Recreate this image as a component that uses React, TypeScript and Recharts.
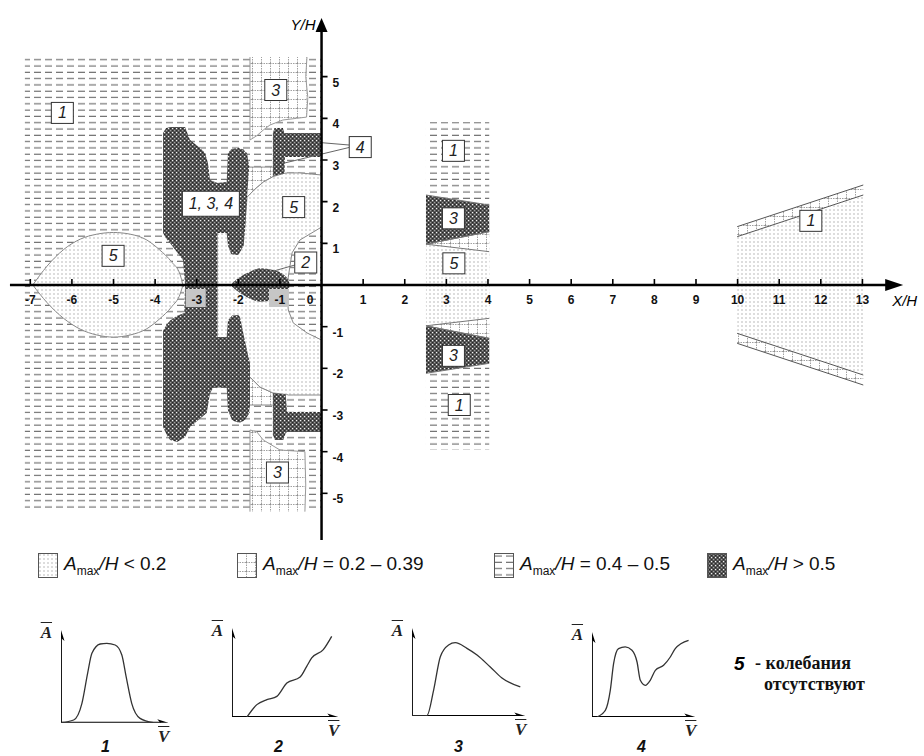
import React from "react";
import { ComposedChart, Area, Line, Scatter, XAxis, YAxis } from "recharts";

// [x, low, high] in X/H, Y/H units
type Row = [number, number, number];
type Pt = [number, number];

const SANS = "Liberation Sans, Arial, sans-serif";
const SERIF = "Liberation Serif, Times New Roman, serif";

const xTicks = [-7, -6, -5, -4, -3, -2, -1, 0, 1, 2, 3, 4, 5, 6, 7, 8, 9, 10, 11, 12, 13];
const yTicks = [-5, -4, -3, -2, -1, 1, 2, 3, 4, 5];
const shadedTicks = [-3, -1];

// background zones (0.4 - 0.5)
const dashLeft: Row[] = [[-7.13, -5.45, 5.47], [0, -5.45, 5.47]];
const dashMid: Row[] = [[2.51, -3.96, 3.91], [4.03, -3.96, 3.91]];

// zone 3 (0.2 - 0.39)
const grid3Top: Row[] = [
  [-1.72, 3.48, 5.47], [-1.56, 3.58, 5.47], [-1.4, 3.72, 5.47], [-1.24, 3.84, 5.47],
  [-0.93, 3.96, 5.47], [-0.6, 4.0, 5.47], [-0.36, 4.03, 5.47],
];
const grid3TopEdge: Pt[] = [
  [-1.72, 5.47], [-1.72, 3.48], [-1.56, 3.58], [-1.4, 3.72], [-1.24, 3.84],
  [-0.93, 3.96], [-0.6, 4.0], [-0.36, 4.03], [-0.33, 4.5], [-0.38, 5.0], [-0.35, 5.47],
];
const grid3Bottom: Row[] = [
  [-1.72, -5.44, -3.48], [-1.56, -5.44, -3.52], [-1.4, -5.44, -3.72], [-1.0, -5.44, -3.96], [-0.4, -5.44, -4.0],
];
const grid3BottomEdge: Pt[] = [
  [-1.72, -5.44], [-1.72, -3.48], [-1.56, -3.52], [-1.4, -3.72], [-1.0, -3.96], [-0.4, -4.0], [-0.38, -4.8], [-0.4, -5.44],
];
const gridPatchTop: Row[] = [[-1.79, 2.11, 2.83], [-1.6, 2.3, 2.83], [-1.4, 2.47, 2.83], [-1.17, 2.6, 2.83]];
const gridPatchBottom: Row[] = [[-1.72, -2.88, -2.21], [-1.48, -2.88, -2.45], [-1.17, -2.88, -2.59]];

// zone 5 (no oscillation, < 0.2)
const ellipse5: Row[] = [
  [-6.94, 0, 0], [-6.6, -0.42, 0.45], [-6.2, -0.8, 0.85], [-5.8, -1.06, 1.1], [-5.4, -1.2, 1.22],
  [-5.0, -1.25, 1.26], [-4.6, -1.2, 1.22], [-4.2, -1.05, 1.08], [-3.9, -0.82, 0.85],
  [-3.6, -0.52, 0.55], [-3.4, -0.22, 0.25], [-3.33, 0, 0],
];
const dots5Top: Row[] = [
  [-2.52, 0, 1.3], [-1.85, 0, 1.35], [-1.79, 0, 2.11], [-1.6, 0, 2.3], [-1.4, 0, 2.47],
  [-1.17, 0, 2.6], [-0.9, 0, 2.68], [-0.81, 0, 2.69], [-0.8, 0.19, 2.69],
  [-0.71, 0.77, 2.69], [-0.52, 1.08, 2.69], [0, 1.39, 2.64],
];
const dots5Bottom: Row[] = [
  [-2.52, -1.3, 0], [-1.73, -2.2, 0], [-1.48, -2.45, 0], [-1.17, -2.59, 0], [-0.84, -2.63, 0],
  [-0.83, -2.63, -0.12], [-0.8, -2.64, -0.6], [-0.68, -2.64, -0.91], [-0.35, -2.64, -1.15], [0, -2.64, -1.32],
];

// zone > 0.5
const darkA: Row[] = [
  [-3.81, 1.25, 3.65], [-3.74, 1.12, 3.76], [-3.64, 1.0, 3.79], [-3.57, 0.91, 3.79], [-3.33, 0.6, 3.79],
  [-3.28, 0, 3.79], [-3.16, 0, 3.48], [-2.92, 0, 3.29], [-2.8, 0, 3.17], [-2.73, 0, 2.93],
  [-2.68, 0, 2.52], [-2.5, 0, 2.45],
];
const darkB: Row[] = [
  [-2.52, 1.25, 2.45], [-2.28, 1.25, 2.47], [-2.25, 0.95, 3.17], [-2.17, 0.74, 3.26], [-2.0, 0.72, 3.29],
  [-1.87, 0.95, 3.25], [-1.84, 1.32, 3.2], [-1.79, 2.11, 3.17], [-1.74, 2.83, 2.83],
];
const darkT4: Row[] = [
  [-1.17, 2.62, 3.65], [-1.13, 2.62, 3.77], [-0.93, 2.67, 3.77], [-0.89, 2.68, 3.65], [-0.88, 3.07, 3.65], [0, 3.07, 3.65],
];
const darkA2: Row[] = [
  [-3.81, -3.41, -1.1], [-3.72, -3.6, -0.95], [-3.64, -3.72, -0.85], [-3.47, -3.77, -0.74], [-3.3, -3.66, -0.67],
  [-3.28, -3.65, 0], [-3.16, -3.41, 0], [-2.76, -3.07, 0], [-2.68, -2.6, 0], [-2.6, -2.46, 0], [-2.5, -2.46, 0],
];
const darkB2: Row[] = [
  [-2.52, -2.46, -1.25], [-2.28, -2.46, -1.25], [-2.25, -3.0, -0.85], [-2.15, -3.25, -0.73], [-2.0, -3.3, -0.72],
  [-1.96, -3.3, -0.77], [-1.85, -3.25, -1.3], [-1.75, -3.1, -1.75], [-1.72, -2.9, -1.87],
];
const darkT4b: Row[] = [
  [-1.17, -3.6, -2.59], [-1.12, -3.72, -2.6], [-0.92, -3.72, -2.62], [-0.86, -3.55, -2.63], [-0.83, -3.53, -3.05], [0, -3.53, -3.05],
];
const blob2: Row[] = [
  [-2.15, -0.04, 0.04], [-1.95, -0.2, 0.2], [-1.8, -0.29, 0.28], [-1.48, -0.4, 0.4], [-1.16, -0.38, 0.36],
  [-0.9, -0.24, 0.24], [-0.79, -0.1, 0.1], [-0.76, 0, 0],
];

// strip X/H = 2.5 - 4
const dotsMid: Row[] = [[2.51, -0.98, 0.98], [4.03, -0.8, 0.8]];
const gridMidTop: Row[] = [[2.51, 0.98, 0.98], [4.03, 0.8, 1.28]];
const gridMidBottom: Row[] = [[2.51, -0.98, -0.98], [4.03, -1.28, -0.8]];
const darkMidTop: Row[] = [[2.51, 0.98, 2.16], [4.03, 1.28, 1.92]];
const darkMidBottom: Row[] = [[2.51, -2.12, -0.98], [4.03, -1.88, -1.28]];

// far zone X/H = 10 - 13
const dotsRight: Row[] = [[9.99, -1.16, 1.16], [13.02, -2.14, 2.14]];
const gridRightTop: Row[] = [[9.99, 1.16, 1.4], [13.02, 2.16, 2.4]];
const gridRightBottom: Row[] = [[9.99, -1.4, -1.16], [13.02, -2.4, -2.16]];

// axes and leader lines
const xAxisLine: Pt[] = [[-7.49, 0], [13.6, 0]];
const yAxisLine: Pt[] = [[0, -6.12], [0, 6.1]];
const leader4a: Pt[] = [[0.66, 3.36], [-0.05, 3.42]];
const leader4b: Pt[] = [[0.66, 3.3], [-0.88, 2.93]];
const leader2: Pt[] = [[-0.64, 0.48], [-1.24, 0.31]];

const boxLabels = [
  { x: -6.23, y: 4.13, t: "1" },
  { x: -1.1, y: 4.68, t: "3" },
  { x: 0.93, y: 3.31, t: "4" },
  { x: -2.66, y: 1.95, t: "1, 3, 4" },
  { x: -0.67, y: 1.87, t: "5" },
  { x: -5.01, y: 0.7, t: "5" },
  { x: -0.38, y: 0.54, t: "2" },
  { x: -1.06, y: -4.5, t: "3" },
  { x: 3.17, y: 3.22, t: "1" },
  { x: 3.17, y: 1.6, t: "3" },
  { x: 3.18, y: 0.52, t: "5" },
  { x: 3.17, y: -1.7, t: "3" },
  { x: 3.31, y: -2.88, t: "1" },
  { x: 11.76, y: 1.54, t: "1" },
];

// response curves A(V), both axes 0..10
const curve1: Pt[] = [
  [0, 0], [1.18, 0.29], [1.95, 2.09], [2.48, 5.32], [2.88, 7.48], [3.65, 8.49], [4.27, 8.56],
  [5.05, 8.38], [5.67, 7.3], [6.07, 4.96], [6.59, 2.09], [7.37, 0.47], [8.61, 0],
];
const curve2: Pt[] = [
  [1.41, 0], [2.34, 1.39], [3.28, 1.95], [4.22, 2.32], [5.16, 3.82], [6.41, 4.49], [7.03, 5.69],
  [7.5, 6.63], [8.59, 7.57], [9.38, 9.06],
];
const curve3: Pt[] = [
  [0, 0], [1.32, 0.05], [1.91, 2.95], [2.5, 6.74], [3.23, 8.07], [3.82, 8.33], [4.85, 7.69],
  [5.74, 6.93], [6.91, 5.57], [7.94, 4.32], [9.56, 3.3],
];
const curve4: Pt[] = [
  [0.48, 0], [1.29, 0.79], [1.77, 3.14], [2.09, 6.28], [2.57, 8.05], [3.22, 8.24], [3.87, 7.85],
  [4.36, 6.47], [4.68, 4.32], [5.16, 3.73], [5.64, 4.32], [6.13, 5.49], [6.93, 6.08], [7.58, 7.06],
  [8.06, 8.05], [9.35, 9.02],
];
const miniAxisX: Pt[] = [[0, 0], [9.3, 0]];
const miniAxisY: Pt[] = [[0, 0], [0, 9.2]];

const legendItems = [
  { key: "dots", text: "< 0.2" },
  { key: "grid", text: "= 0.2 – 0.39" },
  { key: "dash", text: "= 0.4 – 0.5" },
  { key: "dark", text: "> 0.5" },
];

const toRange = (rows: Row[]) => rows.map(([x, lo, hi]) => ({ x, r: [lo, hi] }));
const toPts = (pts: Pt[]) => pts.map(([x, y]) => ({ x, y }));

function patterns(s: string) {
  return (
    <defs>
      <pattern id={`dots${s}`} width="4" height="4" patternUnits="userSpaceOnUse">
        <rect width="4" height="4" fill="#fff" />
        <rect x="1.5" y="1.5" width="1" height="1" fill="#777" />
      </pattern>
      <pattern id={`grid${s}`} width="9" height="9" patternUnits="userSpaceOnUse">
        <rect width="9" height="9" fill="#fff" />
        <path d="M0 0.5 H9 M0.5 0 V9" stroke="#888" strokeWidth="0.8" strokeDasharray="1.5 1" />
      </pattern>
      <pattern id={`dash${s}`} width="11" height="6.3" patternUnits="userSpaceOnUse">
        <rect width="11" height="6.3" fill="#fff" />
        <line x1="1" x2="8" y1="3" y2="3" stroke="#666" strokeWidth="1.1" />
      </pattern>
      <pattern id={`dark${s}`} width="4" height="4" patternUnits="userSpaceOnUse">
        <rect width="4" height="4" fill="#4e4e4e" />
        <rect x="0" y="0" width="1.2" height="1.2" fill="#f2f2f2" />
        <rect x="2" y="2" width="1.2" height="1.2" fill="#a0a0a0" />
        <rect x="2" y="0" width="1" height="1" fill="#262626" />
        <rect x="0" y="2" width="1" height="1" fill="#262626" />
      </pattern>
    </defs>
  );
}

const region = (key: string, rows: Row[], fill: string, stroke = "none", curve: "linear" | "monotone" = "linear") => (
  <Area
    key={key}
    data={toRange(rows)}
    dataKey="r"
    type={curve}
    fill={`url(#${fill})`}
    fillOpacity={1}
    stroke={stroke}
    strokeWidth={1}
    dot={false}
    activeDot={false}
    isAnimationActive={false}
  />
);

const segment = (key: string, pts: Pt[], stroke: string, width: number) => (
  <Line
    key={key}
    data={toPts(pts)}
    dataKey="y"
    type="linear"
    stroke={stroke}
    strokeWidth={width}
    dot={false}
    activeDot={false}
    isAnimationActive={false}
  />
);

const XTick = (p: any) => {
  const { cx, cy, payload } = p;
  const v = payload.x;
  return (
    <g>
      {shadedTicks.includes(v) && <rect x={cx - 11} y={cy + 4} width={20} height={18} fill="#c6c6c6" />}
      {v !== 0 && <line x1={cx} x2={cx} y1={cy} y2={cy - 6} stroke="#000" strokeWidth={1.6} />}
      <text x={v === 0 ? cx - 11.5 : cx} y={cy + 18.5} textAnchor="middle" fontSize={12} fontWeight="bold" fill="#111" fontFamily={SANS}>
        {v}
      </text>
    </g>
  );
};

const YTick = (p: any) => {
  const { cx, cy, payload } = p;
  return (
    <g>
      <line x1={cx} x2={cx + 6} y1={cy} y2={cy} stroke="#000" strokeWidth={1.6} />
      <text x={cx + 11} y={cy + 10} fontSize={12} fontWeight="bold" fill="#111" fontFamily={SANS}>
        {payload.y}
      </text>
    </g>
  );
};

const Arrow = (p: any) => {
  const { cx, cy, payload } = p;
  if (payload.dir === "x") {
    return (
      <g>
        <path d={`M${cx} ${cy} L${cx - 18} ${cy - 6} L${cx - 18} ${cy + 6} Z`} fill="#000" />
        <text x={cx - 11} y={cy + 21} fontSize={15} fontStyle="italic" fill="#000" fontFamily={SANS}>X/H</text>
      </g>
    );
  }
  return (
    <g>
      <path d={`M${cx} ${cy} L${cx - 6} ${cy + 14} L${cx + 6} ${cy + 14} Z`} fill="#000" />
      <text x={cx - 6} y={cy + 12} textAnchor="end" fontSize={15} fontStyle="italic" fill="#000" fontFamily={SANS}>Y/H</text>
    </g>
  );
};

const BoxLabel = (p: any) => {
  const { cx, cy, payload } = p;
  const wide = payload.t.length > 1;
  const w = wide ? 57 : 22;
  const h = wide ? 25 : 21;
  return (
    <g>
      <rect x={cx - w / 2} y={cy - h / 2} width={w} height={h} fill="#fff" stroke="#333" strokeWidth={1} />
      <text x={cx} y={cy + 5.5} textAnchor="middle" fontSize={16} fontStyle="italic" fill="#222" fontFamily={SANS}>
        {payload.t}
      </text>
    </g>
  );
};

const MiniArrow = (p: any) => {
  const { cx, cy, payload } = p;
  const d =
    payload.dir === "x"
      ? `M${cx} ${cy} L${cx - 11} ${cy - 3.5} L${cx - 8} ${cy} L${cx - 11} ${cy + 3.5} Z`
      : `M${cx} ${cy} L${cx - 3.5} ${cy + 11} L${cx} ${cy + 8} L${cx + 3.5} ${cy + 11} Z`;
  return <path d={d} fill="#000" />;
};

function MainChart() {
  return (
    <ComposedChart width={924} height={550} margin={{ top: 10, right: 0, bottom: 2.5, left: 9.5 }}>
      {patterns("")}
      <XAxis type="number" dataKey="x" domain={[-7.5, 14.48]} hide allowDataOverflow />
      <YAxis type="number" domain={[-6.3, 6.6]} hide allowDataOverflow />

      {region("dashLeft", dashLeft, "dash")}
      {region("dashMid", dashMid, "dash")}
      {region("grid3Top", grid3Top, "grid")}
      {region("grid3Bottom", grid3Bottom, "grid")}
      {region("gridPatchTop", gridPatchTop, "grid", "#888")}
      {region("gridPatchBottom", gridPatchBottom, "grid", "#888")}
      {region("ellipse5", ellipse5, "dots", "#888", "monotone")}
      {region("dots5Top", dots5Top, "dots", "#888")}
      {region("dots5Bottom", dots5Bottom, "dots", "#888")}
      {region("darkA", darkA, "dark")}
      {region("darkB", darkB, "dark")}
      {region("darkT4", darkT4, "dark")}
      {region("darkA2", darkA2, "dark")}
      {region("darkB2", darkB2, "dark")}
      {region("darkT4b", darkT4b, "dark")}
      {region("blob2", blob2, "dark", "none", "monotone")}

      {region("dotsMid", dotsMid, "dots")}
      {region("gridMidTop", gridMidTop, "grid", "#777")}
      {region("gridMidBottom", gridMidBottom, "grid", "#777")}
      {region("darkMidTop", darkMidTop, "dark", "#777")}
      {region("darkMidBottom", darkMidBottom, "dark", "#777")}

      {region("dotsRight", dotsRight, "dots")}
      {region("gridRightTop", gridRightTop, "grid", "#555")}
      {region("gridRightBottom", gridRightBottom, "grid", "#555")}

      {segment("grid3TopEdge", grid3TopEdge, "#999", 1)}
      {segment("grid3BottomEdge", grid3BottomEdge, "#999", 1)}
      {segment("leader4a", leader4a, "#666", 1)}
      {segment("leader4b", leader4b, "#666", 1)}
      {segment("leader2", leader2, "#666", 1)}
      {segment("xAxisLine", xAxisLine, "#000", 2.5)}
      {segment("yAxisLine", yAxisLine, "#000", 2.5)}

      <Scatter data={xTicks.map((v) => ({ x: v, y: 0 }))} dataKey="y" shape={XTick} isAnimationActive={false} />
      <Scatter data={yTicks.map((v) => ({ x: 0, y: v }))} dataKey="y" shape={YTick} isAnimationActive={false} />
      <Scatter
        data={[{ x: 13.98, y: 0, dir: "x" }, { x: 0, y: 6.41, dir: "y" }]}
        dataKey="y"
        shape={Arrow}
        isAnimationActive={false}
      />
      <Scatter data={boxLabels} dataKey="y" shape={BoxLabel} isAnimationActive={false} />
    </ComposedChart>
  );
}

function Swatch({ kind }: { kind: string }) {
  return (
    <svg width={20} height={25} style={{ display: "block" }}>
      {patterns("L")}
      <rect x={0.5} y={0.5} width={19} height={24} fill={`url(#${kind}L)`} stroke="#555" strokeWidth={1} />
    </svg>
  );
}

function Legend() {
  const lefts = [38, 237, 494, 707];
  return (
    <>
      {legendItems.map((it, i) => (
        <div
          key={it.key}
          style={{
            position: "absolute",
            left: lefts[i],
            top: 553,
            display: "flex",
            alignItems: "center",
            gap: 6,
            fontFamily: SANS,
            fontSize: 19,
            color: "#111",
            whiteSpace: "nowrap",
          }}
        >
          <Swatch kind={it.key} />
          <span>
            <i>A</i>
            <sub style={{ fontSize: 12 }}>max</sub>
            <i>/H</i> {it.text}
          </span>
        </div>
      ))}
    </>
  );
}

function Mini({ x0, xEnd, yBase, yTop, data, num, numX }: {
  x0: number; xEnd: number; yBase: number; yTop: number; data: Pt[]; num: string; numX: number;
}) {
  const pad = 10;
  const w = xEnd - x0;
  const h = yBase - yTop;
  const over: React.CSSProperties = {
    position: "absolute",
    fontFamily: SERIF,
    fontStyle: "italic",
    fontWeight: "bold",
    fontSize: 17,
    lineHeight: 1,
    textDecoration: "overline",
    color: "#222",
  };
  return (
    <>
      <div style={{ position: "absolute", left: x0 - pad, top: yTop - pad }}>
        <ComposedChart width={w + 2 * pad} height={h + 2 * pad} margin={{ top: pad, right: pad, bottom: pad, left: pad }}>
          <XAxis type="number" dataKey="x" domain={[0, 10]} hide allowDataOverflow />
          <YAxis type="number" domain={[0, 10]} hide allowDataOverflow />
          {segment("ax", miniAxisX, "#000", 1.8)}
          {segment("ay", miniAxisY, "#000", 1.8)}
          <Line data={toPts(data)} dataKey="y" type="monotone" stroke="#333" strokeWidth={1.3} dot={false} activeDot={false} isAnimationActive={false} />
          <Scatter data={[{ x: 10, y: 0, dir: "x" }, { x: 0, y: 10, dir: "y" }]} dataKey="y" shape={MiniArrow} isAnimationActive={false} />
        </ComposedChart>
      </div>
      <div style={{ ...over, left: x0 - 20, top: yTop - 6 }}>A</div>
      <div style={{ ...over, left: xEnd - 10, top: yBase + 5 }}>V</div>
      <div
        style={{
          position: "absolute",
          left: numX - 6,
          top: 739,
          fontFamily: SANS,
          fontStyle: "italic",
          fontWeight: "bold",
          fontSize: 16,
          lineHeight: 1,
          color: "#111",
        }}
      >
        {num}
      </div>
    </>
  );
}

export default function App() {
  return (
    <div style={{ position: "absolute", left: 0, top: 0, width: 924, height: 756, background: "#fff", overflow: "hidden" }}>
      <div style={{ position: "absolute", left: 0, top: 0 }}>
        <MainChart />
      </div>
      <Legend />
      <Mini x0={60.7} xEnd={168} yBase={722.7} yTop={630} data={curve1} num="1" numX={107} />
      <Mini x0={231.7} xEnd={338} yBase={717} yTop={628} data={curve2} num="2" numX={280} />
      <Mini x0={411.7} xEnd={525} yBase={716} yTop={628} data={curve3} num="3" numX={460} />
      <Mini x0={591.7} xEnd={695} yBase={716.7} yTop={631.7} data={curve4} num="4" numX={643} />
      <div style={{ position: "absolute", left: 734, top: 654, fontFamily: SANS, fontStyle: "italic", fontWeight: "bold", fontSize: 19, lineHeight: 1 }}>
        5
      </div>
      <div style={{ position: "absolute", left: 755, top: 653, fontFamily: SERIF, fontWeight: "bold", fontSize: 18, lineHeight: "21px", color: "#111" }}>
        - колебания
        <br />
        <span style={{ paddingLeft: 9 }}>отсутствуют</span>
      </div>
    </div>
  );
}
